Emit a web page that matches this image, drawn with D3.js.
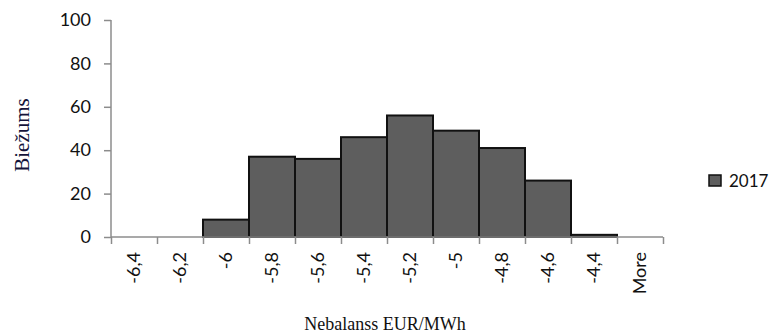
<!DOCTYPE html>
<html>
<head>
<meta charset="utf-8">
<script src="https://cdn.jsdelivr.net/npm/d3@7"></script>
<style>
  body { margin: 0; background: #fff; }
  svg { display: block; }
</style>
</head>
<body>
<svg id="chart" width="774" height="333"></svg>
<script>
const categories = ['-6,4','-6,2','-6','-5,8','-5,6','-5,4','-5,2','-5','-4,8','-4,6','-4,4','More'];
const counts2017 = [0, 0, 8, 37, 36, 46, 56, 49, 41, 26, 1, 0];
const yTicks = [0, 20, 40, 60, 80, 100];
const seriesName = '2017';

const svg = d3.select('#chart');
const plotLeft = 111, plotRight = 663, plotTop = 20, plotBottom = 237;
const axisColor = '#8c8c8c';
const barFill = '#5e5e5e';

const x = d3.scaleBand().domain(categories).range([plotLeft, plotRight]).padding(0);
const xEdge = d3.scaleLinear().domain([0, categories.length]).range([plotLeft, plotRight]);
const y = d3.scaleLinear().domain([0, 100]).range([plotBottom, plotTop]);

// bars
svg.append('g').selectAll('rect')
  .data(categories.map((c, i) => ({c, v: counts2017[i]})).filter(d => d.v > 0))
  .join('rect')
    .attr('x', d => x(d.c))
    .attr('y', d => y(d.v))
    .attr('width', x.bandwidth())
    .attr('height', d => y(0) - y(d.v))
    .attr('fill', barFill)
    .attr('stroke', '#111')
    .attr('stroke-width', 2);

// y axis
const yAxis = svg.append('g')
  .attr('transform', 'translate(' + plotLeft + ',0)')
  .call(d3.axisLeft(y).tickValues(yTicks).tickSize(7).tickPadding(13));
yAxis.selectAll('line, path').attr('stroke', axisColor).attr('stroke-width', 1.5);
yAxis.select('path').attr('d', 'M0,' + plotTop + 'V' + plotBottom);
yAxis.selectAll('text')
  .attr('font-family', 'Lato, sans-serif')
  .attr('font-size', 18)
  .attr('fill', '#111');

// x axis (ticks on bin edges)
const xAxis = svg.append('g')
  .attr('transform', 'translate(0,' + plotBottom + ')')
  .call(d3.axisBottom(xEdge).tickValues(d3.range(categories.length + 1)).tickSize(7).tickFormat(''));
xAxis.selectAll('line, path').attr('stroke', axisColor).attr('stroke-width', 1.5);
xAxis.select('path').attr('d', 'M' + plotLeft + ',0H' + plotRight);

// x labels, rotated
svg.append('g').selectAll('text')
  .data(categories)
  .join('text')
    .attr('transform', d => 'translate(' + (x(d) + x.bandwidth() / 2) + ',252) rotate(-90)')
    .attr('text-anchor', 'end')
    .attr('dy', '0.35em')
    .attr('font-family', 'Lato, sans-serif')
    .attr('font-size', 18)
    .attr('fill', '#111')
    .text(d => d);

// axis titles
svg.append('text')
  .attr('transform', 'translate(29,135) rotate(-90)')
  .attr('text-anchor', 'middle')
  .attr('font-family', '"Liberation Serif", "Times New Roman", serif')
  .attr('font-size', 21)
  .attr('fill', '#14143a')
  .text('Biežums');

svg.append('text')
  .attr('x', 385)
  .attr('y', 330)
  .attr('text-anchor', 'middle')
  .attr('font-family', '"Liberation Serif", "Times New Roman", serif')
  .attr('font-size', 18)
  .attr('fill', '#111')
  .text('Nebalanss EUR/MWh');

// legend
const legend = svg.append('g').attr('transform', 'translate(709,175)');
legend.append('rect')
  .attr('width', 12).attr('height', 11)
  .attr('fill', barFill).attr('stroke', '#111').attr('stroke-width', 1.5);
legend.append('text')
  .attr('x', 20).attr('y', 6).attr('dy', '0.35em')
  .attr('font-family', 'Lato, sans-serif')
  .attr('font-size', 17)
  .attr('fill', '#111')
  .text(seriesName);
</script>
</body>
</html>
